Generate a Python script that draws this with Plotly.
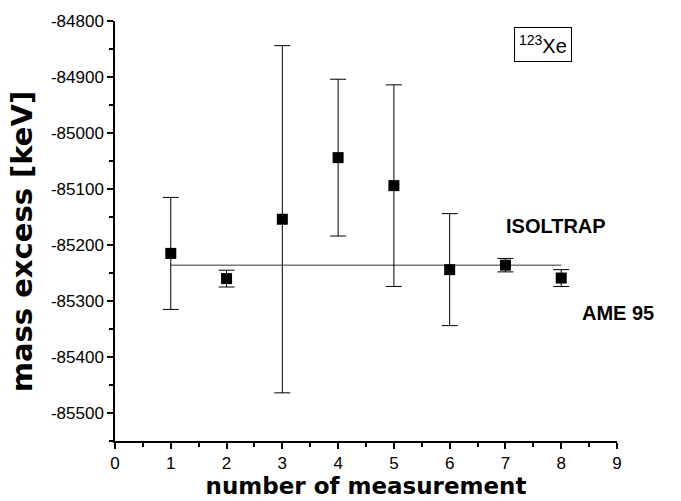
import plotly.graph_objects as go

measurement = [1, 2, 3, 4, 5, 6, 7, 8]
mass_excess = [-85215, -85260, -85154, -85044, -85094, -85244, -85236, -85259]
errors = [100, 15, 310, 140, 180, 100, 12, 15]

isoltrap_x = [1, 8]
isoltrap_y = [-85236, -85236]

x_ticks = [0, 1, 2, 3, 4, 5, 6, 7, 8, 9]
y_ticks = [-85500, -85400, -85300, -85200, -85100, -85000, -84900, -84800]

fig = go.Figure()
fig.add_trace(go.Scatter(
    x=isoltrap_x, y=isoltrap_y, mode="lines",
    line=dict(color="#333333", width=1), showlegend=False, hoverinfo="skip"))
fig.add_trace(go.Scatter(
    x=measurement, y=mass_excess, mode="markers",
    marker=dict(symbol="square", size=11, color="black"),
    error_y=dict(type="data", array=errors, visible=True, color="black",
                 thickness=1, width=8),
    showlegend=False))

fig.add_annotation(x=6.98, y=-85166, text="<b>ISOLTRAP</b>", showarrow=False,
                   xanchor="left", yanchor="middle",
                   font=dict(family="Liberation Sans, Arial", size=20, color="black"))
fig.add_annotation(x=8.34, y=-85321, text="<b>AME 95</b>", showarrow=False,
                   xanchor="left", yanchor="middle",
                   font=dict(family="Liberation Sans, Arial", size=20, color="black"))
fig.add_annotation(xref="paper", yref="paper", x=(543 - 115) / 502, y=1 - (37 - 13) / 431,
                   text="<sup>123</sup>Xe", showarrow=False,
                   xanchor="center", yanchor="middle",
                   bordercolor="black", borderwidth=1, borderpad=4,
                   font=dict(family="Liberation Sans, Arial", size=20, color="black"))
# y-axis title placed as rotated text (reference centres it slightly below the plot middle)
fig.add_annotation(xref="paper", yref="paper", x=(22 - 115) / 502, y=1 - (240 - 13) / 431,
                   text="<b>mass excess [keV]</b>", showarrow=False, textangle=-90,
                   xanchor="center", yanchor="middle",
                   font=dict(family="DejaVu Sans, Verdana", size=29, color="black"))

fig.update_layout(
    width=681, height=501,
    margin=dict(l=115, r=64, t=13, b=57),
    plot_bgcolor="white", paper_bgcolor="white",
    font=dict(family="Liberation Sans, Arial", color="black"),
    xaxis=dict(
        range=[0, 9], tickvals=x_ticks, ticktext=[str(v) for v in x_ticks],
        showgrid=False, zeroline=False, showline=True, linecolor="black", linewidth=1.5,
        ticks="outside", ticklen=6, tickwidth=1.5, tickcolor="black",
        minor=dict(dtick=0.5, ticks="outside", ticklen=4, tickwidth=1.5, tickcolor="black"),
        tickfont=dict(size=17, color="black"),
        title=dict(text="<b>number of measurement</b>", standoff=0,
                   font=dict(family="DejaVu Sans, Verdana", size=23, color="black")),
    ),
    yaxis=dict(
        range=[-85550, -84800], tickvals=y_ticks, ticktext=[str(v) for v in y_ticks],
        showgrid=False, zeroline=False, showline=True, linecolor="black", linewidth=1.5,
        ticks="outside", ticklen=6, tickwidth=1.5, tickcolor="black",
        minor=dict(dtick=50, ticks="outside", ticklen=4, tickwidth=1.5, tickcolor="black"),
        tickfont=dict(size=17, color="black"),
    ),
)

fig.write_html("out.html")
